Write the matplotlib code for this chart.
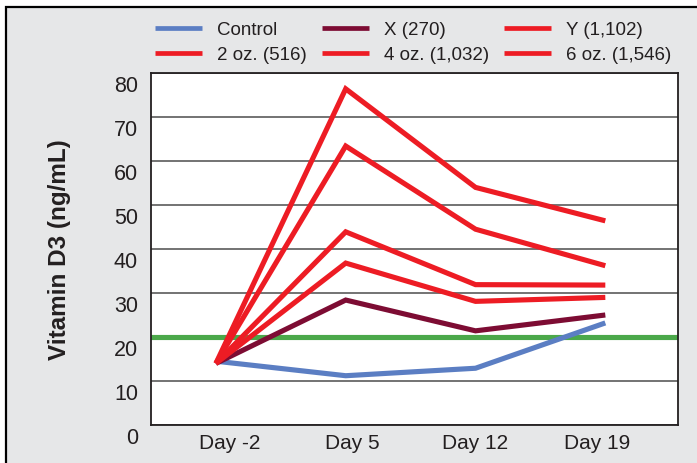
import matplotlib
matplotlib.use("Agg")
import matplotlib.pyplot as plt
import matplotlib.transforms as mtransforms
from matplotlib.patches import Rectangle
import numpy as np

plt.rcParams['font.family'] = ['Liberation Sans', 'DejaVu Sans']

days = ["Day -2", "Day 5", "Day 12", "Day 19"]
control = [14.5, 11.2, 12.9, 23.2]
x_270 = [14.0, 28.4, 21.4, 25.0]
oz2_516 = [14.0, 36.8, 28.1, 29.0]
oz4_1032 = [14.0, 43.9, 31.9, 31.8]
y_1102 = [14.0, 63.4, 44.5, 36.2]
oz6_1546 = [14.0, 76.4, 54.0, 46.4]
threshold = 20
y_ticks = [0, 10, 20, 30, 40, 50, 60, 70, 80]

TEXT = '#231f20'
BLUE = '#5b7ec3'
MAROON = '#7d0c33'
RED = '#ed1c24'
GREEN = '#4ba84a'
BG = '#e6e7e8'

W, H = 697, 464
fig = plt.figure(figsize=(W / 100, H / 100), dpi=100, facecolor='white')

# grey panel with black frame (left/top visible)
fig.patches.append(Rectangle((6 / W, -0.2), 1.5, 0.2 + 1 - 8 / H,
                             transform=fig.transFigure, facecolor=BG,
                             edgecolor='black', linewidth=1.6, zorder=-5))

ax = fig.add_axes([151 / W, 38 / H, (678 - 151) / W, (426 - 74) / H])
ax.set_zorder(2)
ax.set_facecolor('white')

x = np.arange(len(days))
lw = 3.7
common = dict(linewidth=lw, solid_capstyle='butt', solid_joinstyle='miter')

ax.axhline(threshold, color=GREEN, linewidth=lw, zorder=2)
l_ctrl, = ax.plot(x, control, color=BLUE, label='Control', zorder=3, **common)
l_x, = ax.plot(x, x_270, color=MAROON, label='X (270)', zorder=3, **common)
l_2, = ax.plot(x, oz2_516, color=RED, label='2 oz. (516)', zorder=4, **common)
l_4, = ax.plot(x, oz4_1032, color=RED, label='4 oz. (1,032)', zorder=4, **common)
l_y, = ax.plot(x, y_1102, color=RED, label='Y (1,102)', zorder=4, **common)
l_6, = ax.plot(x, oz6_1546, color=RED, label='6 oz. (1,546)', zorder=4, **common)

ax.set_xlim(-0.5, 3.56)
ax.set_ylim(0, 80)

ax.set_yticks(y_ticks)
ax.set_yticklabels([str(v) for v in y_ticks])
ax.yaxis.grid(True, color='#4d4d4d', linewidth=1.1)
ax.set_axisbelow(True)
ax.tick_params(axis='y', length=0, pad=9.4, labelsize=15.5, labelcolor=TEXT)
off = mtransforms.ScaledTranslation(0, -10 / 100, fig.dpi_scale_trans)
for lab in ax.get_yticklabels():
    lab.set_transform(lab.get_transform() + off)

ax.set_xticks(x * 0.942 + 0.11)
ax.set_xticklabels(days)
ax.tick_params(axis='x', length=0, pad=6, labelsize=15, labelcolor=TEXT)

for s in ax.spines.values():
    s.set_color('#231f20')
    s.set_linewidth(1.3)

ax.set_ylabel('Vitamin D3 (ng/mL)', fontsize=17.5, fontweight='bold',
              color=TEXT, labelpad=31)

handles = [l_ctrl, l_2, l_x, l_4, l_y, l_6]
leg = fig.legend(handles=handles, labels=[h.get_label() for h in handles],
                 ncol=3, loc='upper left',
                 bbox_to_anchor=(155 / W, 1 - 22 / H),
                 bbox_transform=fig.transFigure, frameon=False,
                 fontsize=13.5, handlelength=2.5, handletextpad=0.8,
                 columnspacing=0.8, labelspacing=0.42, borderpad=0,
                 borderaxespad=0)
for t in leg.get_texts():
    t.set_color(TEXT)
for lh in leg.get_lines():
    lh.set_linewidth(3.4)
    lh.set_solid_capstyle('butt')

fig.savefig('out.png', dpi=100, facecolor='white')
